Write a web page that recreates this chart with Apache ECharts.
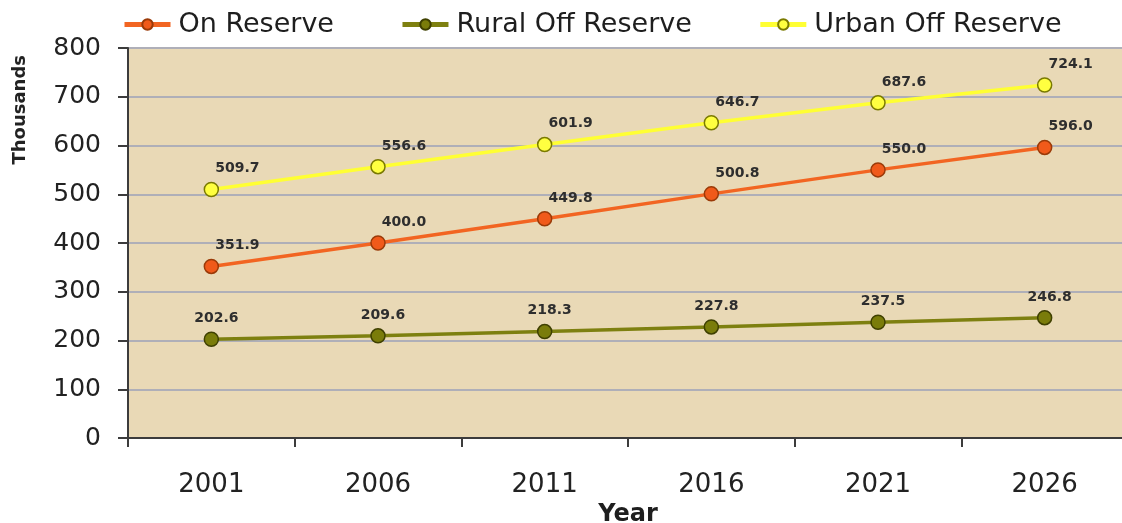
<!DOCTYPE html>
<html>
<head>
<meta charset="utf-8">
<script src="https://cdn.jsdelivr.net/npm/echarts@6/dist/echarts.min.js"></script>
<style>
  html, body { margin: 0; padding: 0; background: #ffffff; }
  #chart { width: 1122px; height: 523px; }
</style>
</head>
<body>
<div id="chart"></div>
<script>
// Population projections (thousands) by area of residence
const years = ['2001', '2006', '2011', '2016', '2021', '2026'];
const onReserve = [351.9, 400.0, 449.8, 500.8, 550.0, 596.0];
const ruralOffReserve = [202.6, 209.6, 218.3, 227.8, 237.5, 246.8];
const urbanOffReserve = [509.7, 556.6, 601.9, 646.7, 687.6, 724.1];
const seriesNames = ['On Reserve', 'Rural Off Reserve', 'Urban Off Reserve'];

const FONT = 'DejaVu Sans';

function lineSeries(name, data, lineColor, fillColor, borderColor, labelDx) {
  return {
    name: name,
    type: 'line',
    data: data,
    symbol: 'circle',
    symbolSize: 14,
    lineStyle: { color: lineColor, width: 3.5 },
    itemStyle: { color: fillColor, borderColor: borderColor, borderWidth: 1.5 },
    label: {
      show: true,
      position: 'top',
      distance: 6,
      offset: [labelDx, 0],
      formatter: p => p.value.toFixed(1),
      fontFamily: FONT,
      fontWeight: 'bold',
      fontSize: 14,
      color: '#2e2e2e'
    },
    z: 3
  };
}

const chart = echarts.init(document.getElementById('chart'), null, { renderer: 'canvas' });

chart.setOption({
  backgroundColor: '#ffffff',
  animation: false,
  legend: {
    data: seriesNames,
    left: 117,
    top: 6,
    itemWidth: 46,
    itemHeight: 13,
    itemGap: 66,
    lineStyle: { width: 5 },
    textStyle: {
      fontFamily: FONT,
      fontSize: 27,
      color: '#1e1e1e',
      padding: [0, 0, 0, 3]
    }
  },
  grid: {
    left: 128,
    right: -6,
    top: 48,
    bottom: 85,
    outerBoundsMode: 'none',
    containLabel: false,
    show: true,
    backgroundColor: '#e9d9b6',
    borderWidth: 0
  },
  xAxis: {
    type: 'category',
    data: years,
    boundaryGap: true,
    name: 'Year',
    nameLocation: 'middle',
    nameGap: 57,
    nameTextStyle: { fontFamily: FONT, fontWeight: 'bold', fontSize: 24, color: '#1e1e1e' },
    axisLine: { lineStyle: { color: '#3c3c3c', width: 2 } },
    axisTick: { show: true, length: 9, lineStyle: { color: '#3c3c3c', width: 2 } },
    axisLabel: { margin: 34, fontFamily: FONT, fontSize: 26, color: '#222222' },
    splitLine: { show: false }
  },
  yAxis: {
    type: 'value',
    min: 0,
    max: 800,
    interval: 100,
    axisLine: { show: true, lineStyle: { color: '#3c3c3c', width: 2 } },
    axisTick: { show: true, length: 10, lineStyle: { color: '#3c3c3c', width: 2 } },
    axisLabel: { margin: 27, fontFamily: FONT, fontSize: 25, color: '#222222' },
    splitLine: { show: true, lineStyle: { color: '#afafb8', width: 2 } }
  },
  graphic: [{
    type: 'text',
    left: 11,
    top: 55,
    rotation: Math.PI / 2,
    style: {
      text: 'Thousands',
      fontFamily: FONT,
      fontWeight: 'bold',
      fontSize: 18,
      fill: '#222222'
    }
  }],
  series: [
    lineSeries(seriesNames[0], onReserve, '#f26522', '#f05a1a', '#9a3a08', 26),
    lineSeries(seriesNames[1], ruralOffReserve, '#7e8010', '#7a7c0a', '#3f4000', 5),
    lineSeries(seriesNames[2], urbanOffReserve, '#ffff33', '#ffff40', '#7a7a00', 26)
  ]
});
</script>
</body>
</html>
